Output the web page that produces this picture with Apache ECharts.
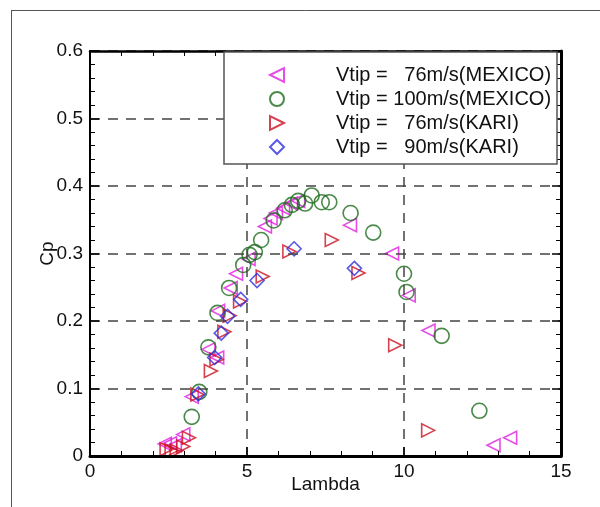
<!DOCTYPE html>
<html><head><meta charset="utf-8">
<script src="https://cdn.jsdelivr.net/npm/echarts@6/dist/echarts.min.js"></script>
<style>html,body{margin:0;padding:0;background:#fff}#c{width:600px;height:507px}</style>
</head><body><div id="c"></div>
<script>
const seriesNames = ['Vtip =   76m/s(MEXICO)', 'Vtip = 100m/s(MEXICO)', 'Vtip =   76m/s(KARI)', 'Vtip =   90m/s(KARI)'];
const mexico76 = [[2.38,0.018],[2.55,0.019],[2.7,0.016],[2.97,0.032],[3.24,0.088],[3.77,0.158],[4.05,0.146],[4.08,0.215],[4.48,0.249],[4.65,0.27],[5.05,0.292],[5.57,0.340],[5.75,0.352],[5.92,0.360],[6.15,0.367],[6.4,0.374],[6.63,0.378],[8.28,0.342],[9.62,0.300],[10.15,0.238],[10.78,0.186],[12.85,0.016],[13.38,0.027]];
const mexico100 = [[3.24,0.058],[3.48,0.095],[3.77,0.161],[4.06,0.212],[4.43,0.249],[4.88,0.283],[5.08,0.298],[5.25,0.302],[5.45,0.320],[5.85,0.349],[6.2,0.364],[6.43,0.372],[6.63,0.378],[6.85,0.374],[7.06,0.386],[7.38,0.376],[7.62,0.376],[8.3,0.360],[9.02,0.331],[10.0,0.270],[10.08,0.243],[11.2,0.178],[12.4,0.067]];
const kari76 = [[2.44,0.010],[2.6,0.008],[2.76,0.008],[2.97,0.014],[3.15,0.027],[3.42,0.091],[3.85,0.126],[4.03,0.143],[4.28,0.184],[4.45,0.208],[4.78,0.229],[5.5,0.266],[6.35,0.303],[7.7,0.320],[8.55,0.271],[9.72,0.164],[10.77,0.038]];
const kari90 = [[3.45,0.092],[3.97,0.146],[4.18,0.182],[4.38,0.207],[4.8,0.232],[5.32,0.260],[6.5,0.307],[8.42,0.278]];
const xTicks = [0, 5, 10, 15];
const yTicks = [0, 0.1, 0.2, 0.3, 0.4, 0.5, 0.6];

const chart = echarts.init(document.getElementById('c'), null, {renderer: 'canvas'});
const FONT = 'Liberation Sans';
const TRI_LEFT = 'path://M0,5 L10,0 L10,10 Z';
const TRI_RIGHT = 'path://M10,5 L0,0 L0,10 Z';
function sc(name, data, symbol, color, size) {
  return {
    name: name, type: 'scatter', data: data, symbol: symbol, symbolSize: size,
    itemStyle: {color: 'rgba(255,255,255,0)', borderColor: color, borderWidth: 1.6},
    emphasis: {disabled: true}, xAxisIndex: 0, yAxisIndex: 0
  };
}
// tick-only helper axes, shifted into the plot so that outward ticks reach the frame
function tickAxis(isX, position, offset, major) {
  return {
    type: 'value', position: position, offset: offset, z: 12,
    min: 0, max: isX ? 15 : 0.6, interval: isX ? 5 : 0.1,
    axisLine: {show: false, onZero: false},
    axisTick: {show: major, inside: false, length: 9, lineStyle: {color: '#000', width: 1.5}},
    minorTick: {show: !major, splitNumber: 5, length: 5, lineStyle: {color: '#000', width: 1}},
    axisLabel: {show: false}, splitLine: {show: false}
  };
}
const option = {
  animation: false,
  backgroundColor: '#fff',
  grid: {left: 90, right: 39, top: 51, bottom: 51},
  xAxis: [{
    type: 'value', min: 0, max: 15, interval: 5, position: 'bottom', z: 12,
    axisLine: {show: true, onZero: false, lineStyle: {color: '#000', width: 3}},
    axisTick: {show: false},
    axisLabel: {color: '#111', fontFamily: FONT, fontSize: 19, margin: 6, formatter: v => xTicks.includes(v) ? String(v) : ''},
    splitLine: {show: true, lineStyle: {color: '#444', width: 1.5, type: [10, 8]}},
    name: 'Lambda', nameLocation: 'middle', nameGap: 19, nameMoveOverlap: false,
    nameTextStyle: {color: '#111', fontFamily: FONT, fontSize: 19}
  }, {
    type: 'value', min: 0, max: 15, interval: 5, position: 'top', z: 12,
    axisLine: {show: true, onZero: false, lineStyle: {color: '#000', width: 2.5}},
    axisTick: {show: false}, axisLabel: {show: false}, splitLine: {show: false}
  },
    tickAxis(true, 'bottom', -9, true), tickAxis(true, 'bottom', -5, false),
    tickAxis(true, 'top', -9, true), tickAxis(true, 'top', -5, false)
  ],
  yAxis: [{
    type: 'value', min: 0, max: 0.6, interval: 0.1, position: 'left', z: 12,
    axisLine: {show: true, onZero: false, lineStyle: {color: '#000', width: 2}},
    axisTick: {show: false},
    axisLabel: {color: '#111', fontFamily: FONT, fontSize: 19, margin: 7,
      formatter: v => { const r = Math.round(v * 10) / 10; return r === 0 ? '0' : r.toFixed(1); }},
    splitLine: {show: true, lineStyle: {color: '#444', width: 1.5, type: [10, 8]}},
    name: 'Cp', nameLocation: 'middle', nameGap: 33, nameRotate: 90, nameMoveOverlap: false,
    nameTextStyle: {color: '#111', fontFamily: FONT, fontSize: 19}
  }, {
    type: 'value', min: 0, max: 0.6, interval: 0.1, position: 'right', z: 12,
    axisLine: {show: true, onZero: false, lineStyle: {color: '#000', width: 3}},
    axisTick: {show: false}, axisLabel: {show: false}, splitLine: {show: false}
  },
    tickAxis(false, 'left', -9, true), tickAxis(false, 'left', -5, false),
    tickAxis(false, 'right', -9, true), tickAxis(false, 'right', -5, false)
  ],
  legend: {
    orient: 'vertical', left: 224, top: 65, padding: [0, 0, 0, 45],
    itemWidth: 14, itemHeight: 14, itemGap: 4, z: 20,
    textStyle: {color: '#111', fontFamily: FONT, fontSize: 20, lineHeight: 20, padding: [0, 0, 0, 47]},
    data: seriesNames
  },
  graphic: [
    {type: 'line', shape: {x1: 11, y1: 10.5, x2: 600, y2: 10.5}, style: {stroke: '#555', lineWidth: 1}, silent: true},
    {type: 'line', shape: {x1: 11.5, y1: 10, x2: 11.5, y2: 507}, style: {stroke: '#555', lineWidth: 1}, silent: true},
    {type: 'rect', shape: {x: 224, y: 52, width: 333, height: 112}, style: {fill: '#fff', stroke: '#555', lineWidth: 1.5}, z: 15, silent: true}
  ],
  series: [
    sc(seriesNames[0], mexico76, TRI_LEFT, '#e020e0', 13),
    sc(seriesNames[1], mexico100, 'circle', '#1b6b1b', 15),
    sc(seriesNames[2], kari76, TRI_RIGHT, '#cc1122', 13),
    sc(seriesNames[3], kari90, 'diamond', '#3030e0', 14)
  ]
};
chart.setOption(option);
</script></body></html>
